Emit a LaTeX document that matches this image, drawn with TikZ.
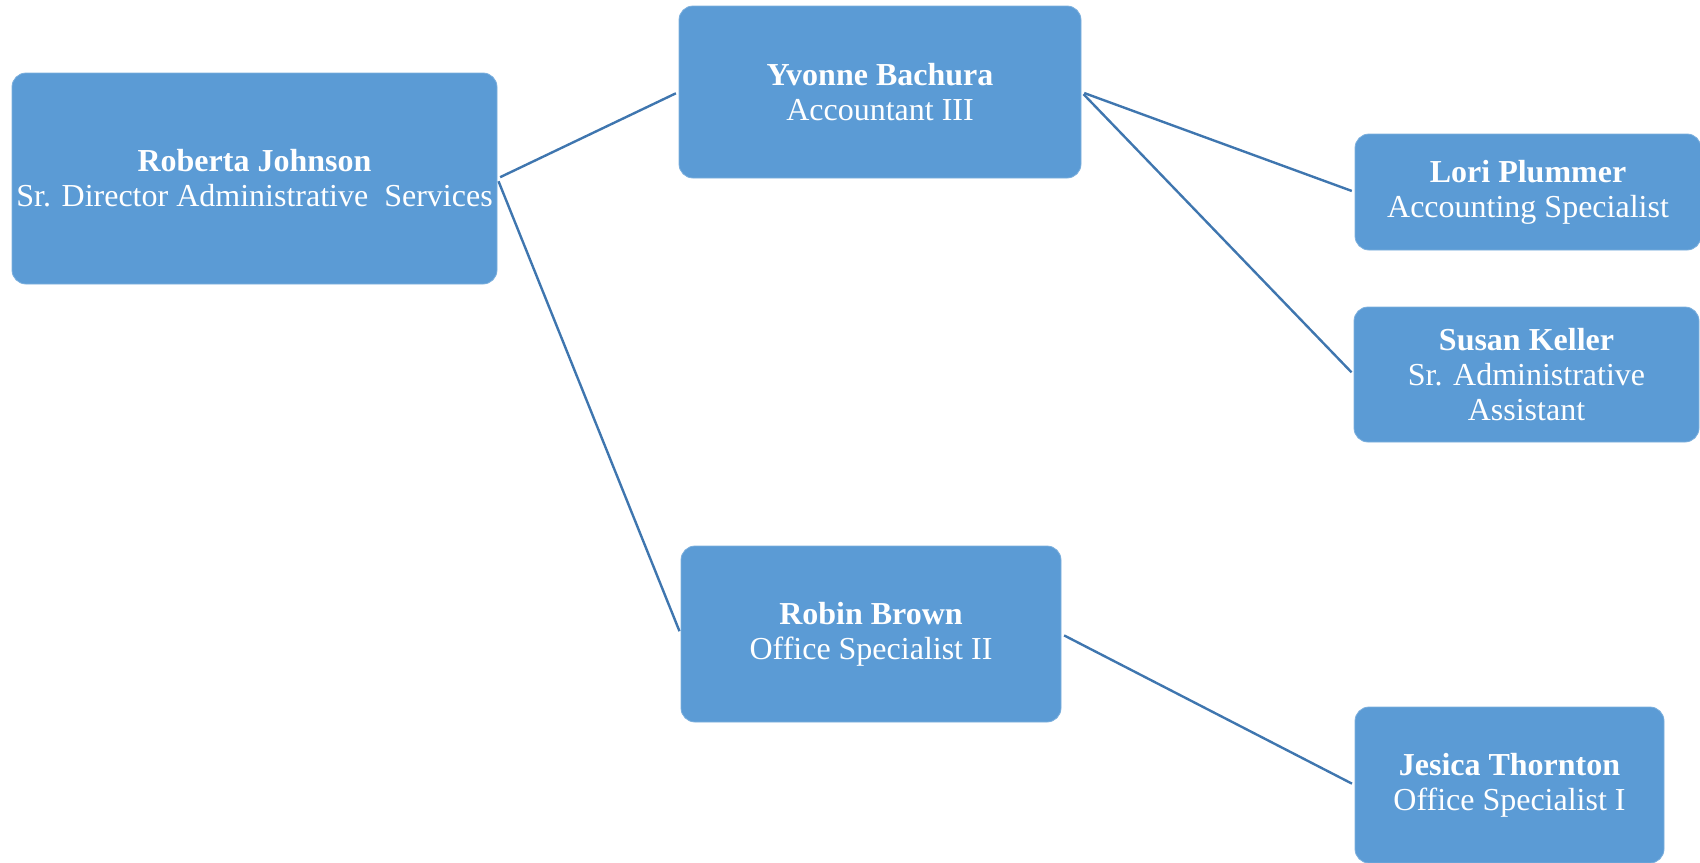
\documentclass[tikz,border=0pt]{standalone}
\usepackage{fontspec}
\setmainfont{Liberation Serif}
\usepackage{tikz}
\usetikzlibrary{shapes}

\definecolor{boxblue}{HTML}{5B9BD5}
\definecolor{lineblue}{HTML}{3F76AF}

\begin{document}
\begin{tikzpicture}[x=0.5pt,y=-0.5pt]
\tikzstyle{person}=[fill=boxblue,draw=boxblue!80!white,rounded corners=7pt,text=white,align=center,inner sep=0pt,font=\fontsize{16}{17.5}\selectfont]
\useasboundingbox (0,0) rectangle (1700,862);
\node [person,minimum width=242.5pt,minimum height=105.5pt] (rj) at (254.5,178.5) {\textbf{Roberta Johnson}\\Sr. Director Administrative\ \ Services};
\node [person,minimum width=201pt,minimum height=86pt] (yb) at (880,92) {\textbf{Yvonne Bachura}\\Accountant III};
\node [person,minimum width=173pt,minimum height=58pt] (lp) at (1528,192) {\textbf{Lori Plummer}\\Accounting Specialist};
\node [person,minimum width=172.5pt,minimum height=67.5pt] (sk) at (1526.5,374.5) {\textbf{Susan Keller}\\Sr. Administrative\\Assistant};
\node [person,minimum width=190pt,minimum height=88pt] (rb) at (871,634) {\textbf{Robin Brown}\\Office Specialist II};
\node [person,minimum width=154.5pt,minimum height=78pt] (jt) at (1509.5,785) {\textbf{Jesica Thornton}\\Office Specialist I};
\path[draw=lineblue,line width=1.2pt,shorten <=1.5pt,shorten >=1.5pt]
(rj.east) edge (yb.west)
(rj.east) edge (rb.west)
(yb.east) edge (lp.west)
(yb.east) edge (sk.west)
(rb.east) edge (jt.west);
\end{tikzpicture}
\end{document}
